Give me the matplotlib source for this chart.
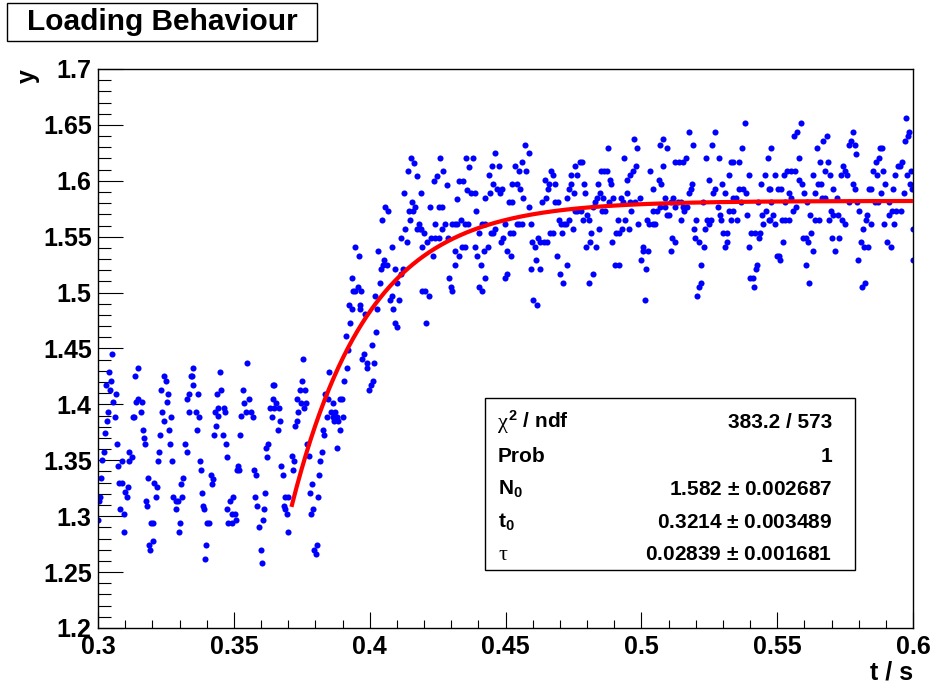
import numpy as np
import matplotlib
matplotlib.use("Agg")
import matplotlib.pyplot as plt
from matplotlib.patches import Rectangle
from matplotlib.ticker import MultipleLocator, FuncFormatter

plt.rcParams['font.family'] = ['Liberation Sans', 'DejaVu Sans']
plt.rcParams['font.weight'] = 'bold'
plt.rcParams['mathtext.fontset'] = 'custom'
plt.rcParams['mathtext.rm'] = 'Liberation Sans:bold'
plt.rcParams['mathtext.bf'] = 'Liberation Sans:bold'
plt.rcParams['mathtext.sf'] = 'Liberation Sans'
plt.rcParams['mathtext.it'] = 'Liberation Sans:bold'
plt.rcParams['mathtext.default'] = 'rm'

# measured samples, read off the picture (t in s, y in arbitrary units)
# before the loading starts
t_before = [
    0.3053, 0.3149, 0.3138, 0.3041, 0.3049, 0.3028, 0.3044, 0.3065, 0.3243, 0.3250,
    0.3232, 0.3258, 0.3057, 0.3146, 0.3140, 0.3161, 0.3254, 0.3037, 0.3061, 0.3157,
    0.3237, 0.3032, 0.3128, 0.3134, 0.3242, 0.3269, 0.3025, 0.3165, 0.3261, 0.3228,
    0.3168, 0.3173, 0.3265, 0.3069, 0.3021, 0.3114, 0.3124, 0.3115, 0.3088, 0.3074,
    0.3016, 0.3225, 0.3221, 0.3272, 0.3185, 0.3012, 0.3076, 0.3087, 0.3109, 0.3207,
    0.3219, 0.3101, 0.3106, 0.3212, 0.3277, 0.3177, 0.3182, 0.3287, 0.3296, 0.3009,
    0.3004, 0.3082, 0.3095, 0.3286, 0.3000, 0.3194, 0.3204, 0.3301, 0.3097, 0.3297,
    0.3201, 0.3189, 0.3193, 0.3351, 0.3341, 0.3347, 0.3349, 0.3334, 0.3328, 0.3336,
    0.3322, 0.3326, 0.3314, 0.3304, 0.3311,
    0.3547, 0.3449, 0.3649, 0.3643, 0.3367, 0.3438, 0.3454, 0.3534, 0.3557, 0.3538,
    0.3643, 0.3657, 0.3634, 0.3647, 0.3666, 0.3443, 0.3463, 0.3431, 0.3468, 0.3544,
    0.3563, 0.3361, 0.3442, 0.3528, 0.3569, 0.3639, 0.3372, 0.3671, 0.3433, 0.3363,
    0.3663, 0.3426, 0.3459, 0.3522, 0.3470, 0.3627, 0.3619, 0.3475, 0.3622, 0.3374,
    0.3378, 0.3514, 0.3511, 0.3520, 0.3573, 0.3582, 0.3675, 0.3680, 0.3415, 0.3422,
    0.3419, 0.3382, 0.3615, 0.3497, 0.3486, 0.3578, 0.3587, 0.3688, 0.3701, 0.3684,
    0.3385, 0.3392, 0.3476, 0.3611, 0.3688, 0.3695, 0.3492, 0.3503, 0.3508, 0.3495,
    0.3480, 0.3609, 0.3401, 0.3409, 0.3593, 0.3699, 0.3398, 0.3599, 0.3394, 0.3603,
]
y_before = [
    1.445, 1.433, 1.425, 1.429, 1.421, 1.417, 1.413, 1.409, 1.425, 1.421,
    1.413, 1.409, 1.402, 1.405, 1.402, 1.402, 1.402, 1.393, 1.389, 1.393,
    1.393, 1.385, 1.389, 1.389, 1.385, 1.389, 1.374, 1.377, 1.377, 1.373,
    1.370, 1.365, 1.365, 1.365, 1.357, 1.357, 1.353, 1.349, 1.349, 1.345,
    1.350, 1.357, 1.349, 1.349, 1.334, 1.334, 1.330, 1.330, 1.326, 1.330,
    1.326, 1.322, 1.317, 1.317, 1.317, 1.314, 1.309, 1.314, 1.314, 1.317,
    1.314, 1.306, 1.302, 1.306, 1.297, 1.294, 1.294, 1.294, 1.286, 1.286,
    1.278, 1.274, 1.270, 1.433, 1.425, 1.425, 1.417, 1.409, 1.405, 1.393,
    1.365, 1.357, 1.334, 1.329, 1.317,
    1.437, 1.429, 1.417, 1.417, 1.409, 1.409, 1.413, 1.413, 1.405, 1.401,
    1.405, 1.401, 1.397, 1.397, 1.397, 1.397, 1.397, 1.393, 1.393, 1.393,
    1.393, 1.393, 1.390, 1.390, 1.389, 1.389, 1.389, 1.385, 1.381, 1.377,
    1.377, 1.373, 1.373, 1.373, 1.365, 1.365, 1.361, 1.353, 1.353, 1.349,
    1.341, 1.345, 1.341, 1.341, 1.341, 1.337, 1.345, 1.337, 1.337, 1.333,
    1.329, 1.321, 1.321, 1.317, 1.314, 1.317, 1.309, 1.317, 1.317, 1.309,
    1.309, 1.306, 1.306, 1.306, 1.306, 1.302, 1.302, 1.302, 1.297, 1.294,
    1.294, 1.297, 1.294, 1.294, 1.290, 1.286, 1.274, 1.270, 1.262, 1.258,
]

# the rising edge
t_rise = [
    0.3947, 0.3960, 0.4031, 0.3935, 0.3957, 0.3947, 0.3940, 0.3969, 0.4037, 0.4019,
    0.3923, 0.3935, 0.3965, 0.3966, 0.3982, 0.4028, 0.3928, 0.4023, 0.3912, 0.4007,
    0.3920, 0.3979, 0.3972, 0.3989, 0.4016, 0.3992, 0.3915, 0.4012, 0.4004, 0.3999,
    0.3907, 0.3850, 0.3753, 0.3751, 0.3744, 0.3762, 0.3731, 0.3746, 0.3758, 0.3767,
    0.3891, 0.3897, 0.3837, 0.3848, 0.3864, 0.3857, 0.3871, 0.3842, 0.3864, 0.3879,
    0.3885, 0.3903, 0.3870, 0.3738, 0.3734, 0.3726, 0.3827, 0.3832, 0.3891, 0.3771,
    0.3879, 0.3823, 0.3776, 0.3713, 0.3723, 0.3719, 0.3819, 0.3815, 0.3787, 0.3780,
    0.3811, 0.3790, 0.3783, 0.3805, 0.3795, 0.3803,
]
y_rise = [
    1.541, 1.533, 1.537, 1.513, 1.505, 1.501, 1.501, 1.501, 1.509, 1.497,
    1.489, 1.485, 1.489, 1.485, 1.481, 1.485, 1.473, 1.465, 1.461, 1.453,
    1.449, 1.445, 1.441, 1.437, 1.437, 1.433, 1.433, 1.421, 1.417, 1.413,
    1.421, 1.429, 1.441, 1.421, 1.413, 1.413, 1.405, 1.401, 1.397, 1.401,
    1.405, 1.405, 1.409, 1.405, 1.401, 1.393, 1.393, 1.389, 1.389, 1.389,
    1.385, 1.389, 1.385, 1.393, 1.385, 1.381, 1.377, 1.373, 1.377, 1.365,
    1.361, 1.357, 1.354, 1.354, 1.349, 1.341, 1.349, 1.337, 1.329, 1.321,
    1.317, 1.306, 1.302, 1.274, 1.270, 1.266,
]

# saturated part
t_after = [
    0.4151, 0.4163, 0.4259, 0.4355, 0.4367, 0.4140, 0.4175, 0.4271, 0.4247, 0.4237,
    0.4329, 0.4345, 0.4283, 0.4360, 0.4126, 0.4188, 0.4320, 0.4156, 0.4166, 0.4055,
    0.4067, 0.4144, 0.4161, 0.4223, 0.4254, 0.4266, 0.4045, 0.4148, 0.4337, 0.4323,
    0.4350, 0.4362, 0.4180, 0.4190, 0.4239, 0.4276, 0.4266, 0.4303, 0.4315, 0.4131,
    0.4173, 0.4185, 0.4200, 0.4117, 0.4227, 0.4242, 0.4254, 0.4288, 0.4212, 0.4136,
    0.4193, 0.4082, 0.4340, 0.4352, 0.4313, 0.4328, 0.4232, 0.4053, 0.4063, 0.4050,
    0.4043, 0.4092, 0.4315, 0.4124, 0.4117, 0.4102, 0.4293, 0.4298, 0.4303, 0.4193,
    0.4205, 0.4217, 0.4082, 0.4075, 0.4109, 0.4087, 0.4207, 0.4094, 0.4099,
    0.4573, 0.4463, 0.4585, 0.4379, 0.4450, 0.4475, 0.4536, 0.4561, 0.4548, 0.4575,
    0.4669, 0.4674, 0.4438, 0.4644, 0.4455, 0.4487, 0.4524, 0.4541, 0.4659, 0.4681,
    0.4374, 0.4387, 0.4468, 0.4480, 0.4553, 0.4656, 0.4733, 0.4443, 0.4426, 0.4563,
    0.4649, 0.4728, 0.4512, 0.4524, 0.4634, 0.4683, 0.4693, 0.4391, 0.4588, 0.4414,
    0.4426, 0.4499, 0.4541, 0.4548, 0.4561, 0.4595, 0.4696, 0.4703, 0.4715, 0.4723,
    0.4735, 0.4463, 0.4455, 0.4404, 0.4448, 0.4517, 0.4529, 0.4664, 0.4674, 0.4708,
    0.4492, 0.4485, 0.4598, 0.4607, 0.4620, 0.4627, 0.4642, 0.4652, 0.4387, 0.4436,
    0.4421, 0.4504, 0.4396, 0.4519, 0.4688, 0.4409, 0.4612, 0.4725, 0.4593, 0.4627,
    0.4507, 0.4497, 0.4423, 0.4701, 0.4713, 0.4401, 0.4414, 0.4602, 0.4615,
    0.4973, 0.4985, 0.4877, 0.5081, 0.5069, 0.5093, 0.4936, 0.4774, 0.4782, 0.4757,
    0.5079, 0.4980, 0.4968, 0.4958, 0.4948, 0.5032, 0.4850, 0.4863, 0.4872, 0.4742,
    0.4764, 0.4885, 0.4890, 0.4740, 0.4789, 0.4841, 0.5064, 0.5074, 0.5044, 0.4752,
    0.4794, 0.4848, 0.4946, 0.4836, 0.4860, 0.4897, 0.4926, 0.4831, 0.4821, 0.4880,
    0.4934, 0.4958, 0.4978, 0.4995, 0.5088, 0.5042, 0.5059, 0.4755, 0.4764, 0.4777,
    0.4855, 0.4868, 0.4963, 0.5069, 0.5086, 0.4787, 0.4801, 0.4806, 0.4914, 0.4941,
    0.5022, 0.5029, 0.5042, 0.5052, 0.4988, 0.5096, 0.5103, 0.4750, 0.4845, 0.4929,
    0.4953, 0.4917, 0.4907, 0.4816, 0.4811, 0.4796, 0.4833, 0.4892, 0.5007, 0.5005,
    0.5025, 0.5000, 0.5017, 0.4902, 0.4917, 0.4821, 0.4809, 0.5012,
    0.5383, 0.5177, 0.5272, 0.5189, 0.5260, 0.5371, 0.5125, 0.5137, 0.5152, 0.5164,
    0.5238, 0.5285, 0.5329, 0.5339, 0.5358, 0.5466, 0.5322, 0.5395, 0.5454, 0.5248,
    0.5187, 0.5297, 0.5442, 0.5182, 0.5174, 0.5272, 0.5265, 0.5309, 0.5358, 0.5373,
    0.5385, 0.5469, 0.5118, 0.5336, 0.5348, 0.5110, 0.5135, 0.5147, 0.5226, 0.5366,
    0.5429, 0.5167, 0.5155, 0.5125, 0.5282, 0.5157, 0.5324, 0.5339, 0.5459, 0.5290,
    0.5390, 0.5444, 0.5145, 0.5201, 0.5241, 0.5255, 0.5292, 0.5329, 0.5353, 0.5469,
    0.5248, 0.5449, 0.5194, 0.5233, 0.5299, 0.5317, 0.5405, 0.5417, 0.5437, 0.5113,
    0.5196, 0.5432, 0.5123, 0.5214, 0.5231, 0.5307, 0.5314, 0.5398, 0.5110, 0.5221,
    0.5427, 0.5422, 0.5218, 0.5211, 0.5400, 0.5410, 0.5206, 0.5415,
    0.5587, 0.5974, 0.5574, 0.5562, 0.5682, 0.5670, 0.5778, 0.5771, 0.5766, 0.5785,
    0.5987, 0.5982, 0.5969, 0.5479, 0.5645, 0.5879, 0.5886, 0.5790, 0.5579, 0.5874,
    0.5864, 0.5658, 0.5687, 0.5960, 0.5952, 0.5945, 0.5744, 0.5491, 0.5525, 0.5537,
    0.5550, 0.5567, 0.5675, 0.5633, 0.5695, 0.5734, 0.5751, 0.5758, 0.5854, 0.5866,
    0.5891, 0.5935, 0.5979, 0.5994, 0.5582, 0.5591, 0.5650, 0.5663, 0.5778, 0.5898,
    0.5474, 0.5503, 0.5515, 0.5704, 0.5788, 0.5837, 0.5844, 0.5925, 0.5989, 0.5996,
    0.5542, 0.5599, 0.5638, 0.5883, 0.5967, 0.5552, 0.5665, 0.5677, 0.5719, 0.5479,
    0.5530, 0.5611, 0.5763, 0.5795, 0.5859, 0.5871, 0.5910, 0.5569, 0.5560, 0.5699,
    0.5802, 0.5923, 0.5937, 0.5955, 0.5486, 0.5621, 0.5707, 0.5724, 0.5829, 0.5913,
    0.5474, 0.5518, 0.5530, 0.5545, 0.5641, 0.5653, 0.5690, 0.5739, 0.5827, 0.5493,
    0.5751, 0.5847, 0.5893, 0.5930, 0.5815, 0.6000, 0.5626, 0.5594, 0.5606, 0.5702,
    0.5726, 0.5614, 0.5523, 0.5807, 0.5820, 0.5834, 0.5906, 0.5918, 0.5631, 0.5714,
    0.5498, 0.5508, 0.5510, 0.5798, 0.6000, 0.5606, 0.5618, 0.5812, 0.5822,
]
y_after = [
    1.620, 1.616, 1.620, 1.620, 1.612, 1.609, 1.604, 1.609, 1.604, 1.600,
    1.600, 1.600, 1.596, 1.592, 1.589, 1.589, 1.584, 1.581, 1.577, 1.577,
    1.573, 1.573, 1.573, 1.577, 1.577, 1.577, 1.565, 1.565, 1.565, 1.561,
    1.561, 1.561, 1.561, 1.557, 1.561, 1.561, 1.557, 1.561, 1.561, 1.557,
    1.557, 1.557, 1.553, 1.549, 1.549, 1.549, 1.549, 1.549, 1.545, 1.545,
    1.541, 1.541, 1.541, 1.541, 1.537, 1.533, 1.533, 1.529, 1.525, 1.525,
    1.521, 1.521, 1.525, 1.521, 1.517, 1.509, 1.513, 1.505, 1.501, 1.501,
    1.501, 1.497, 1.497, 1.493, 1.493, 1.485, 1.473, 1.473, 1.469,
    1.632, 1.625, 1.625, 1.620, 1.613, 1.613, 1.613, 1.617, 1.609, 1.609,
    1.609, 1.605, 1.605, 1.601, 1.597, 1.593, 1.597, 1.597, 1.597, 1.597,
    1.589, 1.589, 1.593, 1.589, 1.593, 1.593, 1.593, 1.589, 1.585, 1.585,
    1.585, 1.585, 1.581, 1.581, 1.581, 1.581, 1.581, 1.573, 1.577, 1.561,
    1.561, 1.561, 1.561, 1.561, 1.561, 1.561, 1.565, 1.561, 1.561, 1.561,
    1.565, 1.557, 1.553, 1.553, 1.553, 1.553, 1.553, 1.553, 1.553, 1.553,
    1.549, 1.545, 1.545, 1.541, 1.549, 1.545, 1.545, 1.545, 1.541, 1.541,
    1.537, 1.537, 1.533, 1.533, 1.533, 1.525, 1.529, 1.525, 1.521, 1.521,
    1.517, 1.513, 1.513, 1.517, 1.509, 1.505, 1.501, 1.493, 1.489,
    1.637, 1.629, 1.629, 1.637, 1.632, 1.629, 1.620, 1.617, 1.617, 1.613,
    1.613, 1.613, 1.609, 1.605, 1.601, 1.609, 1.609, 1.609, 1.609, 1.605,
    1.605, 1.601, 1.597, 1.597, 1.597, 1.597, 1.601, 1.597, 1.593, 1.589,
    1.589, 1.589, 1.589, 1.585, 1.585, 1.585, 1.585, 1.581, 1.577, 1.581,
    1.581, 1.581, 1.581, 1.585, 1.585, 1.573, 1.573, 1.573, 1.573, 1.573,
    1.573, 1.573, 1.573, 1.577, 1.577, 1.565, 1.569, 1.565, 1.565, 1.565,
    1.565, 1.561, 1.561, 1.561, 1.561, 1.569, 1.569, 1.557, 1.557, 1.557,
    1.557, 1.553, 1.553, 1.553, 1.545, 1.541, 1.541, 1.545, 1.541, 1.537,
    1.537, 1.529, 1.521, 1.525, 1.525, 1.517, 1.509, 1.493,
    1.652, 1.644, 1.644, 1.632, 1.632, 1.629, 1.617, 1.617, 1.617, 1.620,
    1.620, 1.620, 1.617, 1.617, 1.617, 1.620, 1.605, 1.605, 1.605, 1.601,
    1.597, 1.597, 1.597, 1.593, 1.589, 1.593, 1.589, 1.589, 1.593, 1.593,
    1.589, 1.593, 1.585, 1.585, 1.585, 1.581, 1.581, 1.581, 1.581, 1.581,
    1.581, 1.577, 1.577, 1.577, 1.577, 1.573, 1.573, 1.573, 1.573, 1.569,
    1.569, 1.569, 1.565, 1.565, 1.565, 1.565, 1.565, 1.565, 1.565, 1.565,
    1.561, 1.561, 1.557, 1.557, 1.553, 1.553, 1.553, 1.553, 1.553, 1.549,
    1.549, 1.549, 1.545, 1.545, 1.541, 1.541, 1.545, 1.541, 1.537, 1.525,
    1.525, 1.521, 1.509, 1.505, 1.513, 1.513, 1.497, 1.505,
    1.652, 1.656, 1.644, 1.640, 1.640, 1.636, 1.644, 1.636, 1.632, 1.632,
    1.644, 1.640, 1.636, 1.629, 1.629, 1.629, 1.629, 1.624, 1.620, 1.620,
    1.617, 1.617, 1.617, 1.617, 1.613, 1.613, 1.613, 1.605, 1.605, 1.609,
    1.609, 1.609, 1.609, 1.605, 1.605, 1.605, 1.609, 1.605, 1.609, 1.605,
    1.609, 1.605, 1.605, 1.609, 1.601, 1.597, 1.597, 1.597, 1.597, 1.597,
    1.593, 1.593, 1.593, 1.593, 1.593, 1.593, 1.593, 1.593, 1.597, 1.593,
    1.589, 1.589, 1.589, 1.589, 1.589, 1.585, 1.585, 1.585, 1.585, 1.581,
    1.581, 1.581, 1.581, 1.581, 1.581, 1.581, 1.581, 1.577, 1.573, 1.573,
    1.573, 1.573, 1.573, 1.573, 1.569, 1.569, 1.569, 1.569, 1.569, 1.569,
    1.565, 1.565, 1.565, 1.565, 1.565, 1.565, 1.565, 1.565, 1.565, 1.561,
    1.561, 1.561, 1.561, 1.561, 1.557, 1.557, 1.553, 1.549, 1.549, 1.549,
    1.549, 1.545, 1.545, 1.545, 1.541, 1.541, 1.545, 1.541, 1.537, 1.537,
    1.533, 1.533, 1.529, 1.529, 1.529, 1.525, 1.509, 1.505, 1.509,
]

# fit result shown in the stats box: N0 * (1 - exp(-(t - t0) / tau))
N0, t0, tau = 1.582, 0.3214, 0.02839
fit_range = (0.3714, 0.6)
# (greek symbol drawn in a serif face, rest of the label in bold sans)
stat_labels = [('χ', r'$^{2}$ / ndf'), ('', 'Prob'), ('', r'N$_{0}$'),
               ('', r't$_{0}$'), ('τ', '')]
stat_values = ['383.2 / 573', '1',
               r'1.582 $\mathsf{\pm}$ 0.002687',
               r'0.3214 $\mathsf{\pm}$ 0.003489',
               r'0.02839 $\mathsf{\pm}$ 0.001681']

W, H = 936, 688
fig = plt.figure(figsize=(W / 100, H / 100), dpi=100)
ax = fig.add_axes([98 / W, 1 - 628 / H, 815 / W, 559 / H])

t_all = np.array(t_before + t_rise + t_after)
y_all = np.array(y_before + y_rise + y_after)
ax.plot(t_all, y_all, 'o', color='#0000ff', ms=4.4, mew=0, zorder=2)

tt = np.linspace(fit_range[0], fit_range[1], 400)
ax.plot(tt, N0 * (1 - np.exp(-(tt - t0) / tau)), color='#ff0000', lw=3, zorder=3)

ax.set_xlim(0.3, 0.6)
ax.set_ylim(1.2, 1.7)
fmt = FuncFormatter(lambda v, p: f'{v:.2f}'.rstrip('0').rstrip('.'))
ax.xaxis.set_major_locator(MultipleLocator(0.05))
ax.xaxis.set_minor_locator(MultipleLocator(0.01))
ax.yaxis.set_major_locator(MultipleLocator(0.05))
ax.yaxis.set_minor_locator(MultipleLocator(0.01))
ax.xaxis.set_major_formatter(fmt)
ax.yaxis.set_major_formatter(fmt)
ax.tick_params(which='both', direction='in', top=False, right=False,
               labelsize=18, width=0.8, color='black')
ax.tick_params(axis='x', which='major', length=11.5, pad=5)
ax.tick_params(axis='x', which='minor', length=5.7)
ax.tick_params(axis='y', which='major', length=17.8, pad=4.5)
ax.tick_params(axis='y', which='minor', length=9.1)
for s in ax.spines.values():
    s.set_linewidth(1.0)
    s.set_color('black')

fig.text(28 / W, 1 - 69 / H, 'y', rotation=90, ha='center', va='top', fontsize=18)
fig.text(913 / W, 1 - 679 / H, 't / s', ha='right', va='baseline', fontsize=18)

# title box
fig.add_artist(Rectangle((7 / W, 1 - 41 / H), 310 / W, 38 / H, transform=fig.transFigure,
                         facecolor='white', edgecolor='black', lw=1))
fig.text(162 / W, 1 - 22 / H, 'Loading Behaviour', ha='center', va='center', fontsize=21.5)

# stats box
fig.add_artist(Rectangle((485 / W, 1 - 570 / H), 370 / W, 172 / H, transform=fig.transFigure,
                         facecolor='white', edgecolor='black', lw=1, zorder=5))
baselines = [428, 461.5, 495, 527.5, 560.5]
for (greek, lab), val, yb in zip(stat_labels, stat_values, baselines):
    x0 = 498
    if greek:
        fig.text(x0 / W, 1 - yb / H, greek, ha='left', va='baseline', fontsize=16,
                 family='Liberation Serif', weight='normal', zorder=6)
        x0 += 10
    if lab:
        fig.text(x0 / W, 1 - yb / H, lab, ha='left', va='baseline', fontsize=15, zorder=6)
    fig.text(832 / W, 1 - yb / H, val, ha='right', va='baseline', fontsize=15, zorder=6)

fig.savefig('out.png', dpi=100, facecolor='white')
